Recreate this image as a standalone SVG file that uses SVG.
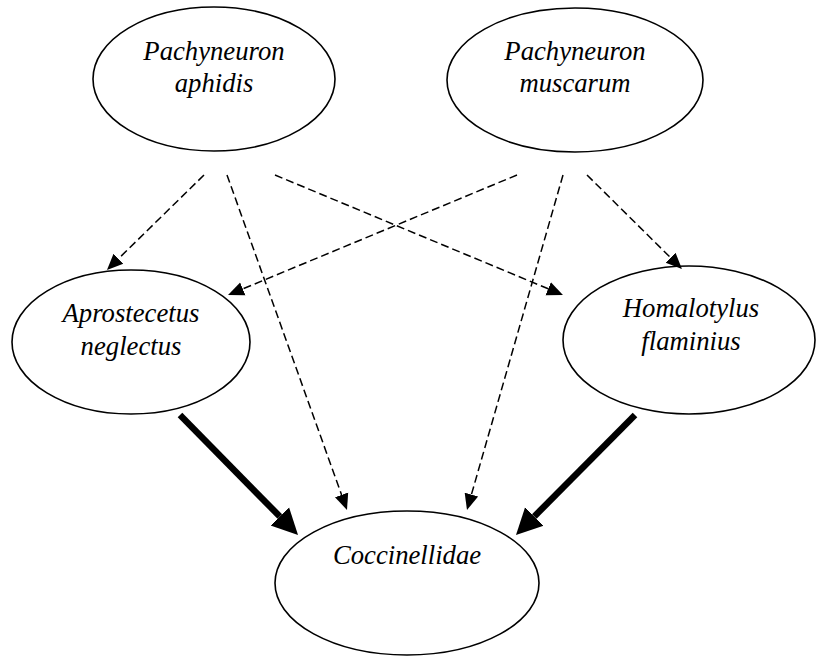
<svg xmlns="http://www.w3.org/2000/svg" width="819" height="660" viewBox="0 0 819 660">
<style>
.node ellipse{fill:#fff;stroke:#000;stroke-width:1.6}
.node text{font-family:"Liberation Serif","Times New Roman",serif;font-style:italic;font-size:26.7px;fill:#000;text-anchor:middle}
.dash{fill:none;stroke:#000;stroke-width:1.5;stroke-dasharray:8 4;marker-end:url(#hs)}
.thick{fill:none;stroke:#000;stroke-width:6.5;marker-end:url(#hb)}
</style>
<defs>
<marker id="hs" viewBox="0 -8 17 16" markerWidth="17" markerHeight="16" refX="0" refY="0" orient="auto" markerUnits="userSpaceOnUse">
<path d="M0,-7 L16,0 L0,7 z" fill="#000"/>
</marker>
<marker id="hb" viewBox="0 -14 27 28" markerWidth="27" markerHeight="28" refX="0" refY="0" orient="auto" markerUnits="userSpaceOnUse">
<path d="M0,-13 L26,0 L0,13 z" fill="#000"/>
</marker>
</defs>
<rect width="819" height="660" fill="#fff"/>
<g id="n1" class="node">
<ellipse cx="214" cy="79" rx="121" ry="72"/>
<text x="214" y="60">Pachyneuron</text>
<text x="214" y="92">aphidis</text>
</g>
<g id="n2" class="node">
<ellipse cx="575" cy="80" rx="128" ry="72"/>
<text x="575" y="60">Pachyneuron</text>
<text x="575" y="92">muscarum</text>
</g>
<g id="n3" class="node">
<ellipse cx="131" cy="342" rx="119" ry="72"/>
<text x="131" y="322">Aprostecetus</text>
<text x="131" y="355">neglectus</text>
</g>
<g id="n4" class="node">
<ellipse cx="689" cy="340" rx="126" ry="74"/>
<text x="691" y="317">Homalotylus</text>
<text x="691" y="350">flaminius</text>
</g>
<g id="n5" class="node">
<ellipse cx="407" cy="583" rx="132" ry="72"/>
<text x="407" y="564">Coccinellidae</text>
</g>
<g id="connectors">
<line class="dash" x1="204" y1="175" x2="118.4" y2="258.8"/>
<line class="dash" x1="227" y1="175" x2="341.6" y2="494.9"/>
<line class="dash" x1="275" y1="175" x2="548.2" y2="288.8"/>
<line class="dash" x1="517" y1="175" x2="242.8" y2="288.9"/>
<line class="dash" x1="563" y1="175" x2="471.4" y2="494.6"/>
<line class="dash" x1="587" y1="175" x2="670.6" y2="257.7"/>
<line class="thick" x1="180" y1="415" x2="279.8" y2="516.5"/>
<line class="thick" x1="635" y1="415" x2="534.3" y2="516.5"/>
</g>
</svg>
